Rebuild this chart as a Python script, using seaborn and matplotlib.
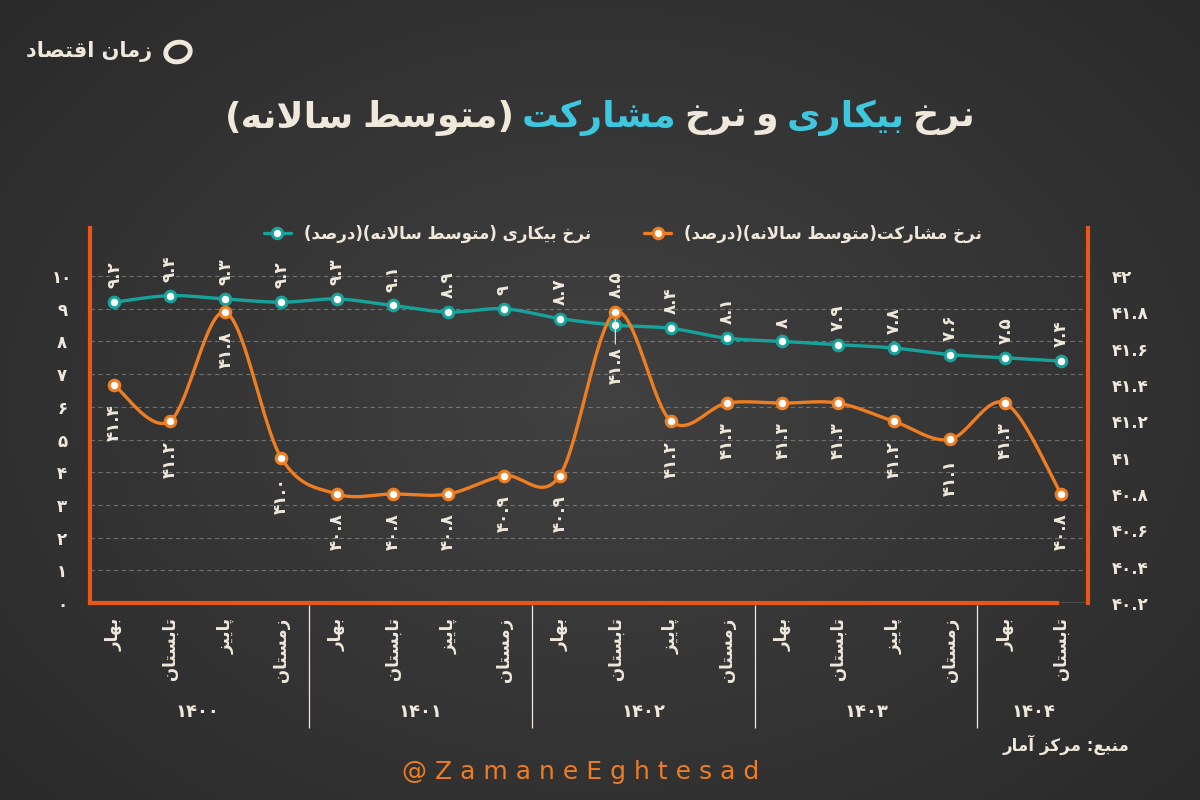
import numpy as np
import seaborn as sns
import matplotlib.pyplot as plt
from matplotlib.lines import Line2D
from matplotlib.patches import Ellipse
from matplotlib.colors import LinearSegmentedColormap

# ---- data ----
years = ["1400", "1401", "1402", "1403", "1404"]
year_sizes = [4, 4, 4, 4, 2]
quarters = ["بهار", "تابستان", "پاییز", "زمستان"] * 4 + ["بهار", "تابستان"]
unemployment = [9.2, 9.4, 9.3, 9.2, 9.3, 9.1, 8.9, 9.0, 8.7, 8.5, 8.4, 8.1, 8.0, 7.9, 7.8, 7.6, 7.5, 7.4]
participation = [41.4, 41.2, 41.8, 41.0, 40.8, 40.8, 40.8, 40.9, 40.9, 41.8, 41.2, 41.3, 41.3, 41.3, 41.2, 41.1, 41.3, 40.8]
left_ticks = [0, 1, 2, 3, 4, 5, 6, 7, 8, 9, 10]
right_ticks = [40.2, 40.4, 40.6, 40.8, 41.0, 41.2, 41.4, 41.6, 41.8, 42.0]

title_words = [("نرخ", 0), ("بیکاری", 1), ("و", 0), ("نرخ", 0), ("مشارکت", 1), ("(متوسط", 0), ("سالانه)", 0)]
legend_labels = ["نرخ بیکاری (متوسط سالانه)(درصد)", "نرخ مشارکت(متوسط سالانه)(درصد)"]
source = "منبع: مرکز آمار"
brand = "زمان اقتصاد"
handle = "@ Z a m a n e E g h t e s a d"

BG = "#333333"
CREAM = "#f0e9db"
TEAL = "#17a39c"
ORANGE = "#ef7d22"
FRAME = "#e8561a"
CYAN = "#3fc7df"

# ---- minimal Persian shaping (matplotlib draws no joined Arabic script) ----
FORMS = {  # isolated, final, initial, medial
    "ا": (0xFE8D, 0xFE8E, None, None), "آ": (0xFE81, 0xFE82, None, None),
    "ب": (0xFE8F, 0xFE90, 0xFE91, 0xFE92), "پ": (0xFB56, 0xFB57, 0xFB58, 0xFB59),
    "ت": (0xFE95, 0xFE96, 0xFE97, 0xFE98), "خ": (0xFEA5, 0xFEA6, 0xFEA7, 0xFEA8),
    "د": (0xFEA9, 0xFEAA, None, None), "ر": (0xFEAD, 0xFEAE, None, None),
    "ز": (0xFEAF, 0xFEB0, None, None), "س": (0xFEB1, 0xFEB2, 0xFEB3, 0xFEB4),
    "ش": (0xFEB5, 0xFEB6, 0xFEB7, 0xFEB8), "ص": (0xFEB9, 0xFEBA, 0xFEBB, 0xFEBC),
    "ط": (0xFEC1, 0xFEC2, 0xFEC3, 0xFEC4), "ع": (0xFEC9, 0xFECA, 0xFECB, 0xFECC),
    "ق": (0xFED5, 0xFED6, 0xFED7, 0xFED8), "ک": (0xFB8E, 0xFB8F, 0xFB90, 0xFB91),
    "ل": (0xFEDD, 0xFEDE, 0xFEDF, 0xFEE0), "م": (0xFEE1, 0xFEE2, 0xFEE3, 0xFEE4),
    "ن": (0xFEE5, 0xFEE6, 0xFEE7, 0xFEE8), "ه": (0xFEE9, 0xFEEA, 0xFEEB, 0xFEEC),
    "و": (0xFEED, 0xFEEE, None, None), "ی": (0xFBFC, 0xFBFD, 0xFBFE, 0xFBFF),
}
LAM_ALEF = {"ا": (0xFEFB, 0xFEFC), "آ": (0xFEF5, 0xFEF6)}


def shape(text):
    def dual(c):
        return c in FORMS and FORMS[c][2] is not None
    out, i = [], 0
    while i < len(text):
        c = text[i]
        if c not in FORMS:
            out.append(c)
            i += 1
            continue
        jp = i > 0 and dual(text[i - 1])
        if c == "ل" and i + 1 < len(text) and text[i + 1] in LAM_ALEF:
            out.append(chr(LAM_ALEF[text[i + 1]][1 if jp else 0]))
            i += 2
            continue
        jn = dual(c) and i + 1 < len(text) and text[i + 1] in FORMS
        iso, fin, ini, med = FORMS[c]
        g = med if (jp and jn) else fin if jp else ini if jn else iso
        out.append(chr(g))
        i += 1
    return "".join(out)[::-1].translate(str.maketrans("()", ")("))


def fa(s):
    return s.translate(str.maketrans("0123456789", "۰۱۲۳۴۵۶۷۸۹"))


def smooth(xs, ys, n=24):
    # Catmull-Rom curve through the data points (chart uses smoothed lines)
    p = np.column_stack([xs, ys]).astype(float)
    p = np.vstack([p[0], p, p[-1]])
    t = np.linspace(0, 1, n)[:, None]
    segs = []
    for k in range(1, len(p) - 2):
        p0, p1, p2, p3 = p[k - 1], p[k], p[k + 1], p[k + 2]
        seg = 0.5 * (2 * p1 + (p2 - p0) * t + (2 * p0 - 5 * p1 + 4 * p2 - p3) * t ** 2
                     + (-p0 + 3 * p1 - 3 * p2 + p3) * t ** 3)
        segs.append(seg if k == 1 else seg[1:])
    s = np.vstack(segs)
    return s[:, 0], s[:, 1]


sns.set_theme(style="dark")
plt.rcParams["font.family"] = ["DejaVu Sans"]
plt.rcParams["font.weight"] = "bold"

fig = plt.figure(figsize=(12, 8), dpi=100, facecolor=BG)

# chalkboard-ish background
bg = fig.add_axes([0, 0, 1, 1], zorder=-10)
yy, xx = np.mgrid[-1:1:200j, -1:1:300j]
bg.imshow(-np.hypot(xx, yy * 0.9), aspect="auto", extent=[0, 1, 0, 1],
          cmap=LinearSegmentedColormap.from_list("bg", ["#2a2a2a", "#414141"]))
bg.axis("off")

L, R = 90 / 1200, 1088 / 1200
ax = fig.add_axes([L, 1 - 603 / 800, R - L, 375 / 800])
ax.set_facecolor("none")
x = np.arange(len(quarters))
ax.set_xlim(-0.431, 17.485)
ax.set_ylim(0, 11.47)

ax_r = ax.twinx()
ax_r.set_ylim(40.2, 42.264)

sx, sy = smooth(x, unemployment)
sns.lineplot(x=sx, y=sy, ax=ax, color=TEAL, lw=2.4, sort=False, estimator=None, zorder=3)
sns.scatterplot(x=x, y=unemployment, ax=ax, s=58, color="white", edgecolor=TEAL, linewidth=2.2, zorder=4)

ox, oy = smooth(x, participation)
sns.lineplot(x=ox, y=oy, ax=ax_r, color=ORANGE, lw=2.4, sort=False, estimator=None, zorder=3)
sns.scatterplot(x=x, y=participation, ax=ax_r, s=58, color="white", edgecolor=ORANGE, linewidth=2.2, zorder=4)

# value labels; where the two markers nearly touch, push labels apart with a leader line
tpx = ax.transData.transform(np.column_stack([x, unemployment]))[:, 1]
opx = ax_r.transData.transform(np.column_stack([x, participation]))[:, 1]
for xi, v, o in zip(x, unemployment, opx - tpx):
    up = 10 + (o * 0.72 if 0 < o < 30 else 0)
    ax.annotate(fa(f"{v:g}"), (xi, v), xytext=(0, up), textcoords="offset points", rotation=90,
                ha="center", va="bottom", color=CREAM, fontsize=12, fontweight="bold", zorder=6)
for xi, v, o in zip(x, participation, opx - tpx):
    if 0 < o < 30:
        ax_r.annotate(fa(f"{v:.1f}"), (xi, v), xytext=(0, -(o * 0.72 + 16)), textcoords="offset points",
                      rotation=90, ha="center", va="top", color=CREAM, fontsize=12, fontweight="bold",
                      zorder=2, arrowprops=dict(arrowstyle="-", color=CREAM, lw=0.8, shrinkA=0, shrinkB=0))
    else:
        ax_r.annotate(fa(f"{v:.1f}"), (xi, v), xytext=(0, -14), textcoords="offset points", rotation=90,
                      ha="center", va="top", color=CREAM, fontsize=12, fontweight="bold", zorder=6)

# axes styling
ax.set_yticks(left_ticks)
ax.set_yticklabels([fa(str(v)) for v in left_ticks])
for lab in ax.get_yticklabels():
    lab.set_ha("center")
ax.tick_params(axis="y", length=0, pad=20, labelcolor=CREAM, labelsize=12)
ax.set_xticks([])
ax.yaxis.grid(True, color="#a0a0a0", ls=(0, (4, 3)), lw=0.8, alpha=0.55)
ax.xaxis.grid(False)

ax_r.set_yticks(right_ticks)
ax_r.set_yticklabels([fa(f"{v:g}") for v in right_ticks])
ax_r.tick_params(axis="y", length=0, pad=17, labelcolor=CREAM, labelsize=12)
ax_r.grid(False)

for sp in ["top", "right"]:
    ax.spines[sp].set_visible(False)
for sp in ["top", "left", "bottom"]:
    ax_r.spines[sp].set_visible(False)
ax.spines["left"].set_color(FRAME)
ax.spines["left"].set_linewidth(3)
ax.spines["bottom"].set_color(FRAME)
ax.spines["bottom"].set_linewidth(3)
ax.spines["bottom"].set_bounds(-0.431, 16.93)
ax_r.spines["right"].set_color(FRAME)
ax_r.spines["right"].set_linewidth(3)
ax.axhline(0, color=CREAM, lw=0.9, zorder=1)
ax.set_xlabel("")
ax.set_ylabel("")
ax_r.set_ylabel("")

# category axis: quarters and years
axl = fig.add_axes([L, 1 - 730 / 800, R - L, 125 / 800], sharex=ax)
axl.set_ylim(0, 1)
axl.axis("off")
bounds = np.cumsum([0] + year_sizes) - 0.5
axl.vlines(bounds, 0.02, 1, color=CREAM, lw=0.9)
for xi, q in zip(x, quarters):
    axl.text(xi, 0.9, shape(q), rotation=90, ha="center", va="top", color=CREAM, fontsize=12)
for c, yr in zip((bounds[:-1] + bounds[1:]) / 2, years):
    axl.text(c, 0.144, fa(yr), ha="center", va="center", color=CREAM, fontsize=13)

# legend
handles = [Line2D([], [], color=TEAL, lw=2.4, marker="o", ms=7.5, mfc="white", mec=TEAL, mew=2.2),
           Line2D([], [], color=ORANGE, lw=2.4, marker="o", ms=7.5, mfc="white", mec=ORANGE, mew=2.2)]
fig.legend(handles, [shape(s) for s in legend_labels], ncol=2, frameon=False, loc="center",
           bbox_to_anchor=(623 / 1200, 1 - 234 / 800), handlelength=1.6, columnspacing=3.2,
           labelcolor=CREAM, prop={"size": 12, "weight": "bold"})

# title with two highlighted words, laid out right to left
renderer = fig.canvas.get_renderer()
fs = 30
texts = [fig.text(0, 0, shape(w), fontsize=fs, fontweight="bold", color=CYAN if hi else CREAM,
                  ha="left", va="center") for w, hi in title_words]
widths = [t.get_window_extent(renderer).width for t in texts]
gap = fs * 0.32
total = sum(widths) + gap * (len(widths) - 1)
scale = min(1.0, 750 / total)
for t in texts:
    t.set_fontsize(fs * scale)
widths = [w * scale for w in widths]
gap *= scale
total = sum(widths) + gap * (len(widths) - 1)
xr = 600 + total / 2
for t, w in zip(texts, widths):
    t.set_position(((xr - w) / 1200, 1 - 118 / 800))
    xr -= w + gap

# brand, source, handle
fig.text(152 / 1200, 1 - 52 / 800, shape(brand), ha="right", va="center", color=CREAM, fontsize=15)
fig.patches.append(Ellipse((178 / 1200, 1 - 52 / 800), 24 / 1200, 20 / 800, transform=fig.transFigure,
                           fill=False, ec=CREAM, lw=3.5, angle=-15))
fig.text(1130 / 1200, 1 - 745 / 800, shape(source), ha="right", va="center", color=CREAM, fontsize=12)
fig.text(581 / 1200, 1 - 772 / 800, handle, ha="center", va="center", color=ORANGE,
         fontsize=18, fontweight="normal")

fig.savefig("out.png", dpi=100, facecolor=BG)
